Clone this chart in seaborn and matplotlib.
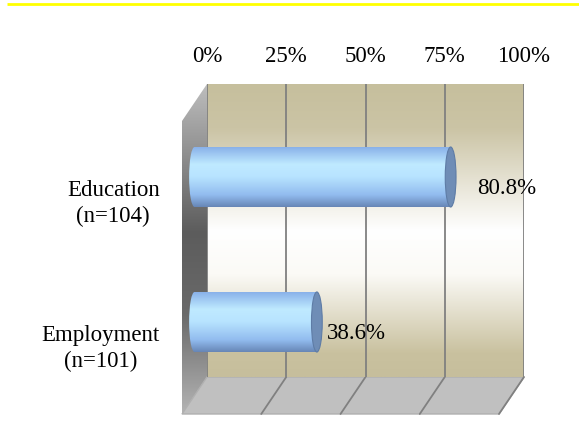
import matplotlib
matplotlib.use("Agg")
import matplotlib.pyplot as plt
import numpy as np
import pandas as pd
import seaborn as sns
from matplotlib.colors import LinearSegmentedColormap
from matplotlib.patches import Polygon, Ellipse
from matplotlib.transforms import ScaledTranslation

# ---------------------------------------------------------------------- #
# Data
# ---------------------------------------------------------------------- #
categories = ["Education\n(n=104)", "Employment\n(n=101)"]
percent = [80.8, 38.6]
value_labels = ["80.8%", "38.6%"]
tick_values = [0, 25, 50, 75, 100]
tick_labels = ["0%", "25%", "50%", "75%", "100%"]

# ---------------------------------------------------------------------- #
# Layout (pixels of a 579x425 canvas)
# ---------------------------------------------------------------------- #
W, H = 579, 425
WL, WR, WT, WB = 207, 524, 84, 377   # back wall
DX, DY = -25, 37                     # depth shift to the front plane
FONT = 16.5
XMIN = -4                            # room for the rounded left end of the bars

sns.set_theme(style="white")
plt.rcParams["font.family"] = ["Liberation Serif", "DejaVu Serif"]
plt.rcParams["text.color"] = "black"
plt.rcParams["xtick.color"] = "black"
plt.rcParams["ytick.color"] = "black"


def box(left, top, right, bottom):
    return [left / W, 1 - bottom / H, (right - left) / W, (bottom - top) / H]


def gradient(ax, cmap, extent, clip, zorder):
    im = ax.imshow(np.linspace(0, 1, 256)[:, None], cmap=cmap, aspect="auto",
                   extent=extent, zorder=zorder, interpolation="bilinear")
    im.set_clip_path(clip)
    return im


fig = plt.figure(figsize=(W / 100, H / 100), dpi=100)

# decoration layer: yellow rule, side wall, floor
bg = fig.add_axes([0, 0, 1, 1])
bg.axis("off")
bg.plot([7, W], [4, 4], color="#ffff00", lw=2, solid_capstyle="butt")

side = Polygon([(WL, WT), (WL + DX, WT + DY), (WL + DX, WB + DY), (WL, WB)],
               closed=True, facecolor="none", edgecolor="none")
bg.add_patch(side)
side_cmap = LinearSegmentedColormap.from_list(
    "side", [(0, "#bdbdbd"), (0.45, "#5c5c5c"), (0.7, "#6a6a6a"), (1, "#b4b4b4")])
gradient(bg, side_cmap, (WL + DX, WL, WB + DY, WT), side, 1)

floor = Polygon([(WL, WB), (WR, WB), (WR + DX, WB + DY), (WL + DX, WB + DY)],
                closed=True, facecolor="#c0c0c0", edgecolor="#b0b0b0", lw=1, zorder=2)
bg.add_patch(floor)
for t in tick_values[1:]:
    x = WL + t / 100 * (WR - WL)
    bg.plot([x, x + DX], [WB, WB + DY], color="#808080", lw=1.3, zorder=3)
bg.set_xlim(0, W)
bg.set_ylim(H, 0)

# back wall with gridlines and percent ticks on top
wall = fig.add_axes(box(WL, WT, WR, WB))
wall_cmap = LinearSegmentedColormap.from_list(
    "wall", [(0, "#c6bf9d"), (0.15, "#cbc4a5"), (0.5, "#ffffff"),
             (0.65, "#fbfaf6"), (0.92, "#c9c19f"), (1, "#c6be9c")])
wall.imshow(np.linspace(0, 1, 256)[:, None], cmap=wall_cmap, aspect="auto",
            extent=(0, 100, 0, 1), zorder=0, interpolation="bilinear")
wall.set_xlim(0, 100)
wall.set_ylim(0, 1)
wall.set_xticks(tick_values)
wall.set_xticklabels(tick_labels, fontsize=FONT)
wall.xaxis.tick_top()
wall.tick_params(axis="x", length=0, pad=12)
wall.set_yticks([])
wall.grid(axis="x", color="#808080", lw=1.3)
for s in wall.spines.values():
    s.set_visible(False)

# bars at mid depth
px_per_unit = (WR - WL) / 100
mid_left = WL + DX / 2
bar_ax = fig.add_axes(box(mid_left + XMIN * px_per_unit, WT + DY / 2,
                          WR + DX / 2, WB + DY / 2))
bar_ax.patch.set_visible(False)
df = pd.DataFrame({"category": categories, "percent": percent})
sns.barplot(data=df, x="percent", y="category", orient="h", width=0.414,
            color="#a8d0f8", saturation=1, ax=bar_ax, zorder=3)

bar_cmap = LinearSegmentedColormap.from_list(
    "bar", [(0, "#86aee8"), (0.3, "#bfeaff"), (0.5, "#b8e4ff"),
            (0.8, "#92bcef"), (1, "#6786b6")])
cap_w = 3.4
for patch in bar_ax.patches[:len(percent)]:
    x0, y0 = patch.get_x(), patch.get_y()
    w, h = patch.get_width(), patch.get_height()
    patch.set_edgecolor("none")
    left_end = Ellipse((x0, y0 + h / 2), cap_w, h, facecolor="none", edgecolor="none")
    bar_ax.add_patch(left_end)
    gradient(bar_ax, bar_cmap, (x0 - cap_w, x0 + w, y0 + h, y0), patch, 4)
    gradient(bar_ax, bar_cmap, (x0 - cap_w, x0 + w, y0 + h, y0), left_end, 4)
    bar_ax.add_patch(Ellipse((x0 + w, y0 + h / 2), cap_w, h, facecolor="#6f8db6",
                             edgecolor="#5e7ca6", lw=0.8, zorder=5))

label_dx = [19, 7]
for i, (v, lab) in enumerate(zip(percent, value_labels)):
    bar_ax.annotate(lab, (v, i), xytext=(label_dx[i], -8), textcoords="offset points",
                    ha="left", va="center", fontsize=FONT, zorder=6)

bar_ax.set_xlim(XMIN, 100)
bar_ax.set_ylim(1.5069, -0.5138)
bar_ax.set_xlabel("")
bar_ax.set_ylabel("")
bar_ax.set_xticks([])
bar_ax.tick_params(axis="y", length=0, pad=16, labelsize=FONT)
shift = ScaledTranslation(0, -0.215, fig.dpi_scale_trans)
for lab in bar_ax.get_yticklabels():
    lab.set_horizontalalignment("right")
    lab.set_multialignment("center")
    lab.set_linespacing(1.3)
    lab.set_transform(lab.get_transform() + shift)
for s in bar_ax.spines.values():
    s.set_visible(False)

fig.savefig("out.png", dpi=100)
